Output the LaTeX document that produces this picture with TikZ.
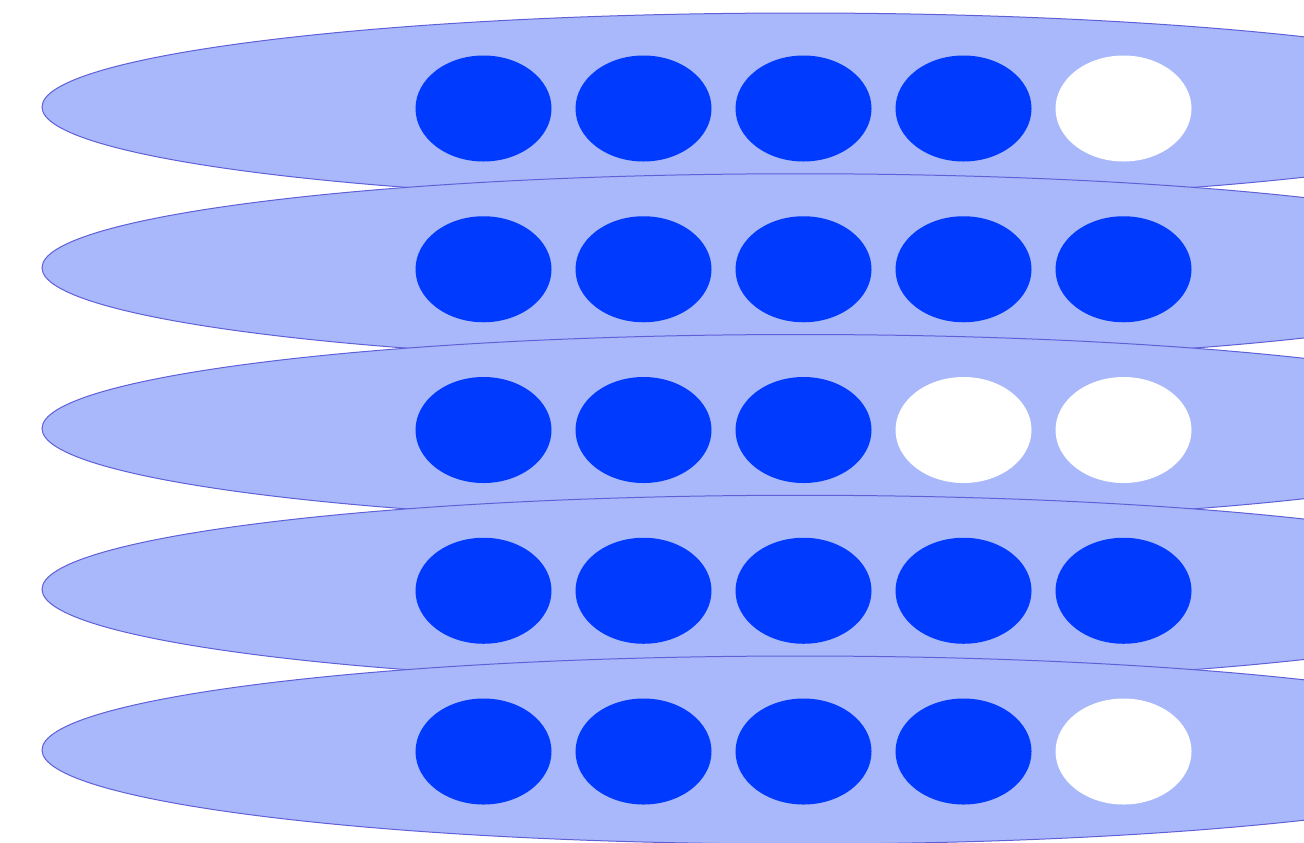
\documentclass[tikz,border=0pt]{standalone}
\definecolor{bandfill}{RGB}{168,184,250}
\definecolor{bandline}{RGB}{95,95,215}
\definecolor{dotblue}{RGB}{0,58,255}
\tikzset{
  band/.style={fill=bandfill, draw=bandline, line width=0.5pt},
  fulldot/.style={fill=dotblue},
  emptydot/.style={fill=white}
}
\begin{document}
\begin{tikzpicture}[x=0.5pt,y=-0.5pt]
\useasboundingbox (0,0) rectangle (1304,842);
\clip (0,0) rectangle (1304,842);
\foreach \r/\pat in {0/{1,1,1,1,0},1/{1,1,1,1,1},2/{1,1,1,0,0},3/{1,1,1,1,1},4/{1,1,1,1,0}}{
  \pgfmathsetmacro{\cy}{107+160.75*\r}
  \path[band] (800,\cy) ellipse [x radius=758, y radius=94];
  \foreach \v [count=\c from 0] in \pat {
    \pgfmathsetmacro{\cx}{483.5+160*\c}
    \ifnum\v=1
      \path[fulldot] (\cx,\cy+1.5) ellipse [x radius=68, y radius=53];
    \else
      \path[emptydot] (\cx,\cy+1.5) ellipse [x radius=68, y radius=53];
    \fi
  }
}
\end{tikzpicture}
\end{document}
